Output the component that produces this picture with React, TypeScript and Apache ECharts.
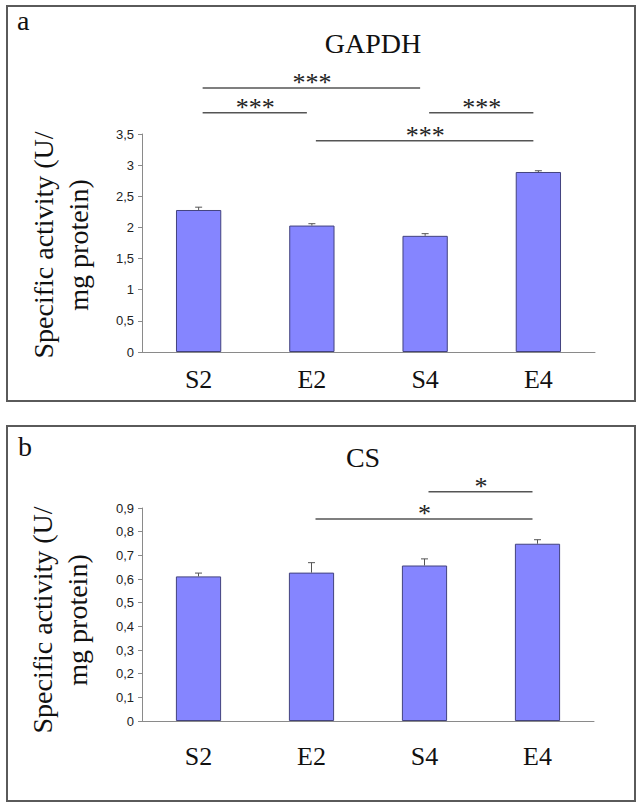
import React, { useEffect, useRef } from 'react';
import * as echarts from 'echarts';

const categories = ['S2', 'E2', 'S4', 'E4'];

const gapdhValues = [2.28, 2.03, 1.865, 2.89];
const gapdhErrors = [0.045, 0.03, 0.035, 0.02];
const gapdhTicks = { min: 0, max: 3.5, interval: 0.5 };
const gapdhSig = [
  { from: 0, to: 2, level: 4.24, label: '***' },
  { from: 0, to: 1, level: 3.84, label: '***' },
  { from: 2, to: 3, level: 3.84, label: '***' },
  { from: 1, to: 3, level: 3.39, label: '***' },
];

const csValues = [0.611, 0.627, 0.657, 0.749];
const csErrors = [0.014, 0.042, 0.028, 0.017];
const csTicks = { min: 0, max: 0.9, interval: 0.1 };
const csSig = [
  { from: 2, to: 3, level: 0.969, label: '*' },
  { from: 1, to: 3, level: 0.854, label: '*' },
];

const yAxisTitle = 'Specific activity (U/\nmg protein)';
const panelTitles = ['GAPDH', 'CS'];
const panelLetters = ['a', 'b'];

const SERIF = 'Liberation Serif';
const SANS = 'Liberation Sans';
const BAR_FILL = '#8585ff';
const BAR_BORDER = '#43437f';
const LINE_COL = '#555555';

function fmt(v: number) {
  const r = Math.round(v * 100) / 100;
  return String(r).replace('.', ',');
}

export default function App() {
  const ref = useRef<HTMLDivElement>(null);
  useEffect(() => {
    if (!ref.current) return;
    const chart = echarts.init(ref.current, undefined, { renderer: 'svg' });

    const grids = [
      { left: 142, right: 47, top: 134, height: 218 },
      { left: 142, right: 48, top: 508, height: 213 },
    ];

    const xAxisBase = (gi: number) => ({
      type: 'category',
      gridIndex: gi,
      data: categories,
      axisTick: { show: false },
      axisLine: { lineStyle: { color: '#8a8a8a', width: 1 } },
      axisLabel: {
        fontFamily: SERIF,
        fontSize: 26,
        color: '#111',
        margin: gi === 0 ? 14 : 22,
      },
    });

    const yAxisBase = (gi: number, t: { min: number; max: number; interval: number }) => ({
      type: 'value',
      gridIndex: gi,
      min: t.min,
      max: t.max,
      interval: t.interval,
      splitLine: { show: false },
      axisLine: { show: true, lineStyle: { color: '#8a8a8a', width: 1 } },
      axisTick: { show: true, length: 4, lineStyle: { color: '#8a8a8a' } },
      axisLabel: {
        fontFamily: SANS,
        fontSize: 13,
        color: '#222',
        margin: 8,
        formatter: (v: number) => fmt(v),
      },
    });

    const barSeries = (gi: number, vals: number[]) => ({
      type: 'bar',
      xAxisIndex: gi,
      yAxisIndex: gi,
      data: vals,
      barWidth: '40%',
      itemStyle: { color: BAR_FILL, borderColor: BAR_BORDER, borderWidth: 1 },
      z: 2,
    });

    const errSeries = (gi: number, vals: number[], errs: number[]) => ({
      type: 'custom',
      xAxisIndex: gi,
      yAxisIndex: gi,
      clip: false,
      z: 3,
      encode: { x: 0, y: 1 },
      data: vals.map((v, i) => [i, v, errs[i]]),
      renderItem: (params: any, api: any) => {
        const x = api.value(0);
        const v = api.value(1);
        const e = api.value(2);
        const base = api.coord([x, v]);
        const top = api.coord([x, v + e]);
        const cap = 3.5;
        return {
          type: 'group',
          children: [
            {
              type: 'line',
              shape: { x1: base[0], y1: base[1], x2: top[0], y2: top[1] },
              style: { stroke: '#555', lineWidth: 1 },
            },
            {
              type: 'line',
              shape: { x1: top[0] - cap, y1: top[1], x2: top[0] + cap, y2: top[1] },
              style: { stroke: '#555', lineWidth: 1 },
            },
          ],
        };
      },
    });

    const sigSeries = (gi: number, sig: { from: number; to: number; level: number; label: string }[]) => ({
      type: 'custom',
      xAxisIndex: gi,
      yAxisIndex: gi,
      clip: false,
      z: 4,
      encode: { x: 0, y: 2 },
      data: sig.map((s) => [s.from, s.to, s.level]),
      renderItem: (params: any, api: any) => {
        const s = sig[params.dataIndex];
        const p0 = api.coord([api.value(0), api.value(2)]);
        const p1 = api.coord([api.value(1), api.value(2)]);
        return {
          type: 'group',
          children: [
            {
              type: 'line',
              shape: { x1: p0[0] + 4, y1: p0[1], x2: p1[0] - 5, y2: p1[1] },
              style: { stroke: LINE_COL, lineWidth: 1.5 },
            },
            {
              type: 'text',
              x: (p0[0] + p1[0]) / 2,
              y: p0[1] - 5,
              style: {
                text: s.label,
                fill: '#222',
                fontFamily: SERIF,
                fontSize: 26,
                align: 'center',
                verticalAlign: 'middle',
              },
            },
          ],
        };
      },
    });

    const yTitle = (x: number, y: number) => ({
      type: 'text',
      x,
      y,
      rotation: Math.PI / 2,
      silent: true,
      style: {
        text: yAxisTitle,
        fontFamily: SERIF,
        fontSize: 28,
        lineHeight: 35,
        fill: '#111',
        align: 'center',
        verticalAlign: 'middle',
      },
    });

    const option: any = {
      animation: false,
      backgroundColor: '#ffffff',
      grid: grids,
      xAxis: [xAxisBase(0), xAxisBase(1)],
      yAxis: [yAxisBase(0, gapdhTicks), yAxisBase(1, csTicks)],
      title: [
        {
          text: panelTitles[0],
          left: 368,
          top: 24,
          textAlign: 'center',
          textStyle: { fontFamily: SERIF, fontSize: 28, fontWeight: 'normal', color: '#111' },
        },
        {
          text: panelTitles[1],
          left: 358,
          top: 438,
          textAlign: 'center',
          textStyle: { fontFamily: SERIF, fontSize: 28, fontWeight: 'normal', color: '#111' },
        },
      ],
      graphic: [
        {
          type: 'rect',
          shape: { x: 7, y: 6, width: 628, height: 395 },
          style: { fill: 'none', stroke: '#5a5a5a', lineWidth: 2 },
          silent: true,
        },
        {
          type: 'rect',
          shape: { x: 7, y: 426, width: 628, height: 375 },
          style: { fill: 'none', stroke: '#5a5a5a', lineWidth: 2 },
          silent: true,
        },
        {
          type: 'text',
          x: 17,
          y: 6,
          style: { text: panelLetters[0], fontFamily: SERIF, fontSize: 28, fill: '#111' },
        },
        {
          type: 'text',
          x: 18,
          y: 432,
          style: { text: panelLetters[1], fontFamily: SERIF, fontSize: 28, fill: '#111' },
        },
        yTitle(61, 245),
        yTitle(60, 620),
      ],
      series: [
        barSeries(0, gapdhValues),
        errSeries(0, gapdhValues, gapdhErrors),
        sigSeries(0, gapdhSig),
        barSeries(1, csValues),
        errSeries(1, csValues, csErrors),
        sigSeries(1, csSig),
      ],
    };

    chart.setOption(option);
    return () => chart.dispose();
  }, []);

  return (
    <div
      ref={ref}
      style={{ position: 'fixed', left: 0, top: 0, width: 642, height: 809, background: '#fff' }}
    />
  );
}
